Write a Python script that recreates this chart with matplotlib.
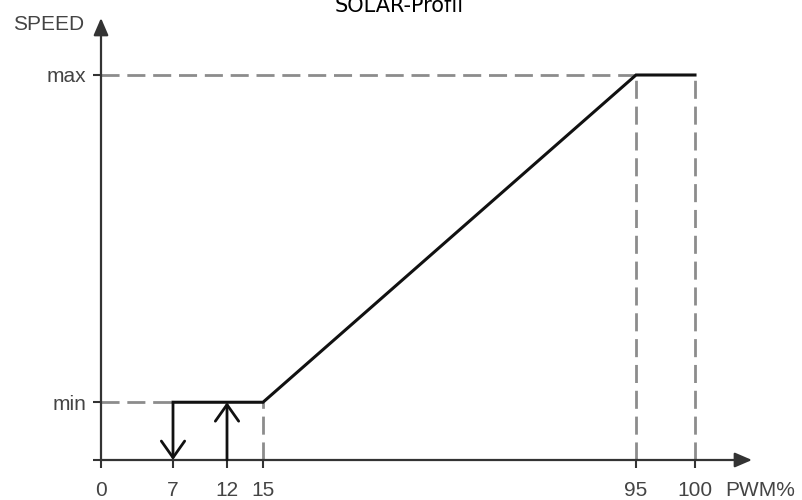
import numpy as np
import matplotlib.pyplot as plt

# valeurs du diagramme (vitesse relative : min / max)
pwm_ticks = [0, 7, 12, 15, 95, 100]
pwm_labels = ["0", "7", "12", "15", "95", "100"]
speed_min = 0.15
speed_max = 1.0
speed_ticks = [0, speed_min, speed_max]
speed_labels = ["", "min", "max"]

curve_pwm = [7, 15, 95, 100]
curve_speed = [speed_min, speed_min, speed_max, speed_max]

pwm_off = 7   # arret
pwm_on = 12   # demarrage

# axe PWM non lineaire : position (px depuis l'origine) de chaque graduation
knots_pwm = [-10, 0, 7, 12, 15, 95, 100, 110]
knots_px = [-101, 0, 72, 126, 162, 535, 594, 651]


def forward(x):
    return np.interp(x, knots_pwm, knots_px)


def inverse(p):
    return np.interp(p, knots_px, knots_pwm)


FONT = ["Liberation Sans Narrow", "Liberation Sans", "DejaVu Sans"]
AXE = "#333333"
TXT = "#444444"
TIRET = "#8c8c8c"

fig = plt.figure(figsize=(8.03, 5), dpi=100)
ax = fig.add_axes([101 / 803, 40 / 500, 651 / 803, 442 / 500])
ax.set_xscale("function", functions=(forward, inverse))
ax.set_xlim(0, 110)
ax.set_ylim(0, speed_max * 442 / 385)
for s in ax.spines.values():
    s.set_visible(False)

ax.set_xticks(pwm_ticks)
ax.set_xticklabels(pwm_labels, family=FONT)
ax.set_yticks(speed_ticks)
ax.set_yticklabels(speed_labels, family=FONT)
ax.tick_params(direction="out", length=5.8, width=1.5, color=AXE,
               labelcolor=TXT, labelsize=15)
ax.tick_params(axis="x", pad=9)
ax.tick_params(axis="y", pad=5)
ax.minorticks_off()

# axes fleches
fleche = dict(arrowstyle="-|>,head_length=0.65,head_width=0.28", lw=1.6,
              color=AXE, shrinkA=0, shrinkB=0, mutation_scale=16)
ax.annotate("", xy=(1, 0), xytext=(0, 0), xycoords="axes fraction",
            arrowprops=fleche, annotation_clip=False)
ax.annotate("", xy=(0, 1), xytext=(0, 0), xycoords="axes fraction",
            arrowprops=fleche, annotation_clip=False)

# lignes de rappel
tirets = dict(color=TIRET, lw=2, linestyle=(0, (6.5, 2.8)), clip_on=False)
ax.plot([0, pwm_off], [speed_min, speed_min], **tirets)
ax.plot([curve_pwm[1]] * 2, [0, speed_min], **tirets)
ax.plot([0, curve_pwm[2]], [speed_max, speed_max], **tirets)
ax.plot([curve_pwm[2]] * 2, [0, speed_max], **tirets)
ax.plot([curve_pwm[3]] * 2, [0, speed_max], **tirets)

# courbe
ax.plot(curve_pwm, curve_speed, color="#111111", lw=2.2,
        solid_joinstyle="miter", clip_on=False)

# hysteresis
hyst = dict(arrowstyle="->,head_length=0.85,head_width=0.6", lw=2,
            color="#111111", shrinkA=0, shrinkB=0, mutation_scale=14)
ax.annotate("", xy=(pwm_off, 0), xytext=(pwm_off, speed_min), arrowprops=hyst)
ax.annotate("", xy=(pwm_on, speed_min), xytext=(pwm_on, 0), arrowprops=hyst)

ax.annotate("SPEED", xy=(0, 1), xycoords="axes fraction", xytext=(-12, -5),
            textcoords="offset points", ha="right", va="center",
            fontsize=15, color=TXT, family=FONT)
ax.annotate("PWM%", xy=(1, 0), xycoords="axes fraction", xytext=(-19.5, -14.8),
            textcoords="offset points", ha="left", va="top",
            fontsize=15, color=TXT, family=FONT)

fig.text(0.497, 1 - 12 / 500, "SOLAR-Profil", ha="center", va="baseline",
         fontsize=15)

fig.savefig("out.png", dpi=100)
